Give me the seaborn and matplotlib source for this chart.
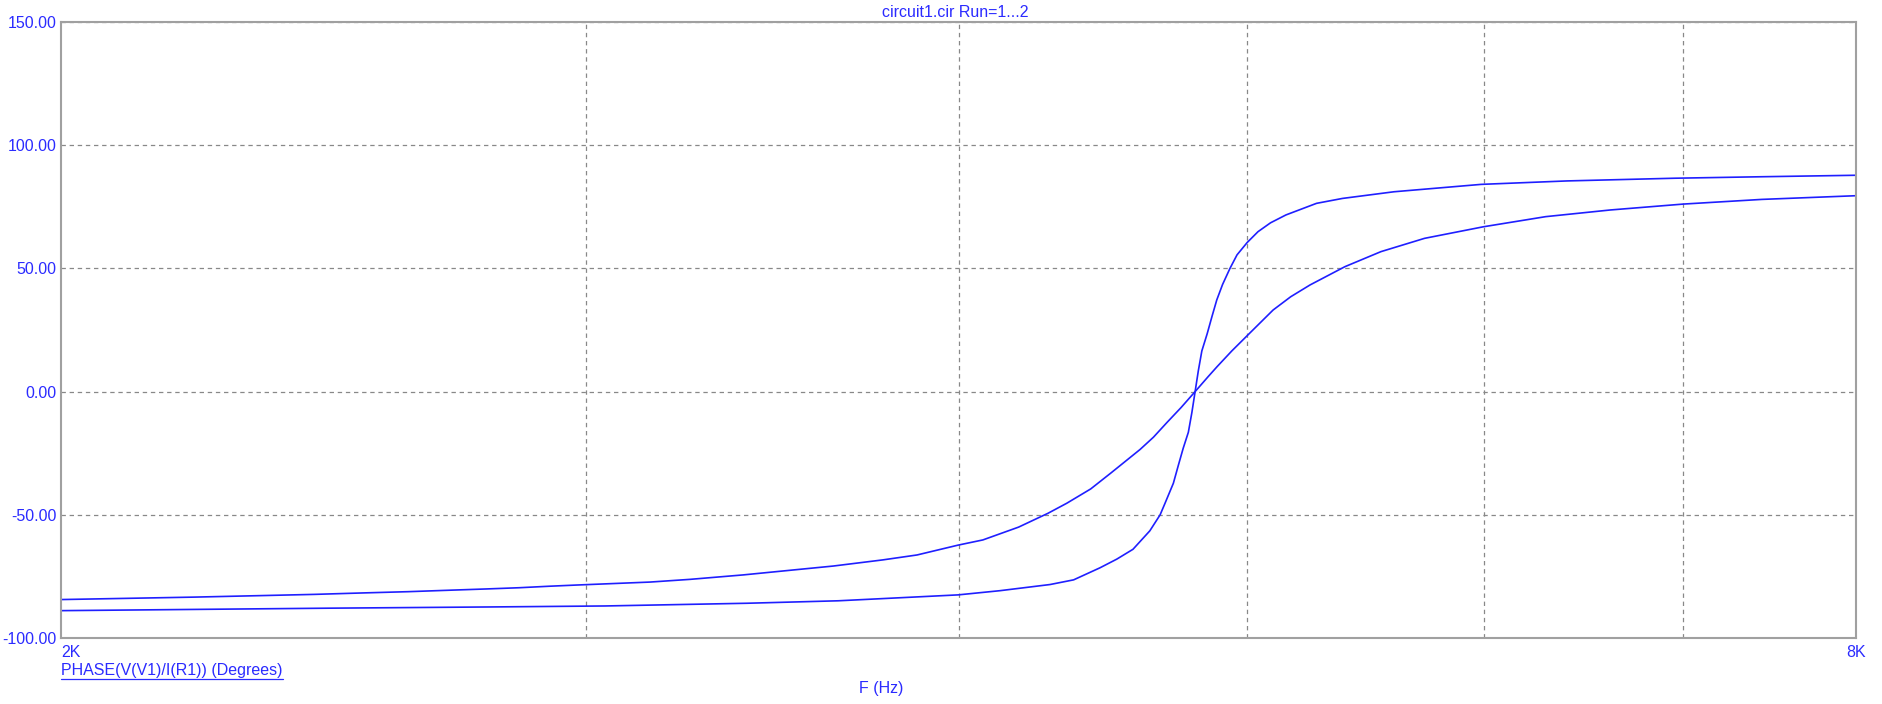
import matplotlib
matplotlib.use("Agg")
import matplotlib.pyplot as plt
from matplotlib.lines import Line2D
from matplotlib.ticker import NullLocator
import seaborn as sns
import pandas as pd

# Phase readings (frequency in Hz, phase in degrees)
freq_run1 = [2000, 2458, 2786, 3044, 3397, 3645, 3999, 4130, 4293, 4372, 4462,
             4520, 4577, 4637, 4674, 4691, 4722, 4740, 4758, 4777, 4790, 4802,
             4814, 4827, 4847, 4865, 4883, 4905, 4933, 4960, 4999, 5041, 5090,
             5151, 5274, 5381, 5599, 5989, 6400, 6956, 7438, 8000]
phase_run1 = [-88.9, -87.9, -87.4, -87.0, -85.9, -84.9, -82.5, -80.8, -78.3, -76.4, -71.5,
              -68.0, -64.0, -56.5, -50.0, -45.5, -37.2, -30.0, -23.0, -16.5, -8.5, 0.0,
              8.5, 16.5, 23.5, 30.5, 37.2, 43.5, 50.0, 55.5, 60.5, 64.9, 68.5,
              71.7, 76.4, 78.4, 81.1, 84.1, 85.5, 86.6, 87.2, 87.8]

freq_run2 = [2000, 2106, 2218, 2333, 2432, 2527, 2615, 2701, 2777, 2849, 2915,
             2979, 3152, 3251, 3387, 3520, 3631, 3773, 3874, 3999, 4076, 4190,
             4286, 4349, 4430, 4500, 4602, 4650, 4699, 4750, 4802, 4850, 4884,
             4940, 5000, 5100, 5170, 5248, 5391, 5543, 5733, 6000, 6295, 6616,
             7000, 7438, 8000]
phase_run2 = [-84.4, -83.9, -83.4, -82.8, -82.3, -81.7, -81.2, -80.6, -80.1, -79.6, -79.0,
              -78.5, -77.3, -76.2, -74.4, -72.4, -70.8, -68.3, -66.3, -62.3, -60.2, -55.0,
              -49.4, -45.3, -39.5, -33.0, -23.5, -18.5, -12.5, -6.5, 0.0, 6.0, 10.1,
              16.5, 22.8, 33.1, 38.5, 43.3, 50.7, 56.8, 62.2, 66.9, 71.0, 73.7,
              76.1, 78.0, 79.5]

y_ticks = [-100, -50, 0, 50, 100, 150]
x_grid = [3000, 4000, 5000, 6000, 7000]

df = pd.concat([
    pd.DataFrame({"F": freq_run1, "phase": phase_run1, "run": "1"}),
    pd.DataFrame({"F": freq_run2, "phase": phase_run2, "run": "2"}),
])

sns.set_style("white")
plt.rcParams['font.family'] = ['Liberation Sans', 'DejaVu Sans']

text_col = "#2b2bff"
line_col = "#1f1fff"
fs = 11.5

fig = plt.figure(figsize=(18.82, 7.04), dpi=100)
ax = fig.add_axes([61 / 1882, 66 / 704, 1795 / 1882, 616 / 704])

sns.lineplot(data=df, x="F", y="phase", units="run", estimator=None,
             color=line_col, linewidth=1.2, sort=False, ax=ax)

ax.set_xscale("log")
ax.set_xlim(2000, 8000)
ax.set_ylim(-100, 150)
ax.set_xticks(x_grid)
ax.xaxis.set_minor_locator(NullLocator())
ax.set_xticklabels([])
ax.set_yticks(y_ticks)
ax.set_yticklabels([f"{v:.2f}" for v in y_ticks], color=text_col, fontsize=fs)
ax.tick_params(length=0, pad=3)
ax.grid(True, color="#888888", linestyle=(0, (3.5, 3)), linewidth=0.9)
ax.set_xlabel("")
ax.set_ylabel("")

for s in ax.spines.values():
    s.set_color("#a0a0a0")
    s.set_linewidth(1.5)

trans = ax.get_xaxis_transform()
ax.text(2000, -0.012, "2K", transform=trans, ha="left", va="top",
        color=text_col, fontsize=fs)
ax.text(8000, -0.012, "8K", transform=trans, ha="center", va="top",
        color=text_col, fontsize=fs)

fig.text(0.5078, 1 - 12.5 / 704, "circuit1.cir Run=1...2", ha="center", va="center",
         color=text_col, fontsize=fs)
lab = fig.text(61 / 1882, 1 - 670 / 704, "PHASE(V(V1)/I(R1)) (Degrees)", ha="left",
               va="center", color=text_col, fontsize=fs)
fig.text(881 / 1882, 1 - 688 / 704, "F (Hz)", ha="center", va="center",
         color=text_col, fontsize=fs)

# underline the trace label like the simulator does
fig.canvas.draw()
bb = lab.get_window_extent()
yline = (bb.y0 - 1) / fig.bbox.height
fig.add_artist(Line2D([bb.x0 / fig.bbox.width, bb.x1 / fig.bbox.width], [yline, yline],
                      transform=fig.transFigure, color=text_col, linewidth=0.9))

fig.savefig("out.png", dpi=100, facecolor="white")
